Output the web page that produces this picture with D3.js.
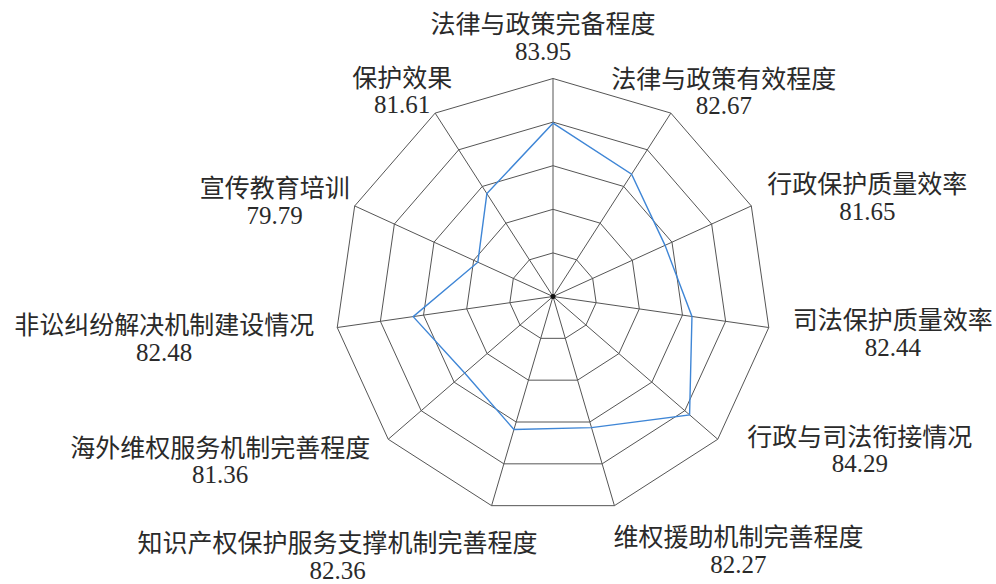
<!DOCTYPE html>
<html lang="zh-CN">
<head>
    <meta charset="UTF-8">
    <title>知识产权保护指标雷达图</title>
    <script src="https://d3js.org/d3.v7.min.js"></script>
    <style>
        body {
            margin: 0;
            background-color: #fff;
        }

        svg {
            display: block;
        }

        .grid polygon {
            fill: none;
            stroke: #555;
            stroke-width: 1px;
        }

        .spokes line {
            stroke: #555;
            stroke-width: 1px;
        }

        .series path {
            fill: none;
            stroke: #3f86d6;
            stroke-width: 1.4px;
        }

        .axis-label text {
            font-size: 25px;
            fill: #2a2a2a;
            text-anchor: middle;
            dominant-baseline: central;
        }
    </style>
</head>
<body>
    <div id="chart"></div>

    <script>
        // 数据
        const indicators = [
            "法律与政策完备程度",
            "法律与政策有效程度",
            "行政保护质量效率",
            "司法保护质量效率",
            "行政与司法衔接情况",
            "维权援助机制完善程度",
            "知识产权保护服务支撑机制完善程度",
            "海外维权服务机制完善程度",
            "非讼纠纷解决机制建设情况",
            "宣传教育培训",
            "保护效果"
        ];
        const scores = [83.95, 82.67, 81.65, 82.44, 84.29, 82.27, 82.36, 81.36, 82.48, 79.79, 81.61];
        const ringValues = [78, 80, 82, 84, 86];
        const scoreMin = 76;
        const scoreMax = 86;

        // 尺寸
        const width = 996;
        const height = 584;
        const cx = 553;
        const cy = 296.5;
        const radius = 218;

        // 标签相对外圈顶点的偏移（标签块中心）
        const labelShift = [
            [-10, -42], [53, -22], [116, -9], [124, 5], [142, 10], [124, 44],
            [-154, 50], [-168, 21], [-173, 10], [-80, -5], [-33, -23]
        ];
        const lineGap = 29;
        const cjkFont = "'Noto Sans CJK SC', sans-serif";
        const numFont = "'Liberation Serif', 'Times New Roman', serif";

        const svg = d3.select("#chart")
            .append("svg")
            .attr("width", width)
            .attr("height", height);

        const g = svg.append("g")
            .attr("transform", `translate(${cx},${cy})`);

        const r = d3.scaleLinear().domain([scoreMin, scoreMax]).range([0, radius]);
        const angle = d3.scaleLinear().domain([0, indicators.length]).range([0, 2 * Math.PI]);

        const point = (i, value) => {
            const a = angle(i);
            return [r(value) * Math.sin(a), -r(value) * Math.cos(a)];
        };

        // 网格多边形
        g.append("g")
            .attr("class", "grid")
            .selectAll("polygon")
            .data(ringValues)
            .enter()
            .append("polygon")
            .attr("points", v => indicators.map((_, i) => point(i, v).join(",")).join(" "));

        // 轴线
        g.append("g")
            .attr("class", "spokes")
            .selectAll("line")
            .data(indicators)
            .enter()
            .append("line")
            .attr("x1", 0)
            .attr("y1", 0)
            .attr("x2", (d, i) => point(i, scoreMax)[0])
            .attr("y2", (d, i) => point(i, scoreMax)[1]);

        // 得分折线
        const line = d3.lineRadial()
            .angle((d, i) => angle(i))
            .radius(d => r(d))
            .curve(d3.curveLinearClosed);

        g.append("g")
            .attr("class", "series")
            .append("path")
            .attr("d", line(scores));

        // 中心点
        g.append("circle")
            .attr("r", 2.5)
            .attr("fill", "#111");

        // 指标名称与得分
        const labels = g.append("g")
            .attr("class", "axis-label")
            .selectAll("g")
            .data(indicators)
            .enter()
            .append("g")
            .attr("transform", (d, i) => {
                const [x, y] = point(i, scoreMax);
                return `translate(${x + labelShift[i][0]},${y + labelShift[i][1]})`;
            });

        labels.append("text")
            .attr("y", -lineGap / 2)
            .style("font-family", cjkFont)
            .text(d => d);

        labels.append("text")
            .attr("y", lineGap / 2)
            .style("font-family", numFont)
            .text((d, i) => scores[i].toFixed(2));
    </script>
</body>
</html>
